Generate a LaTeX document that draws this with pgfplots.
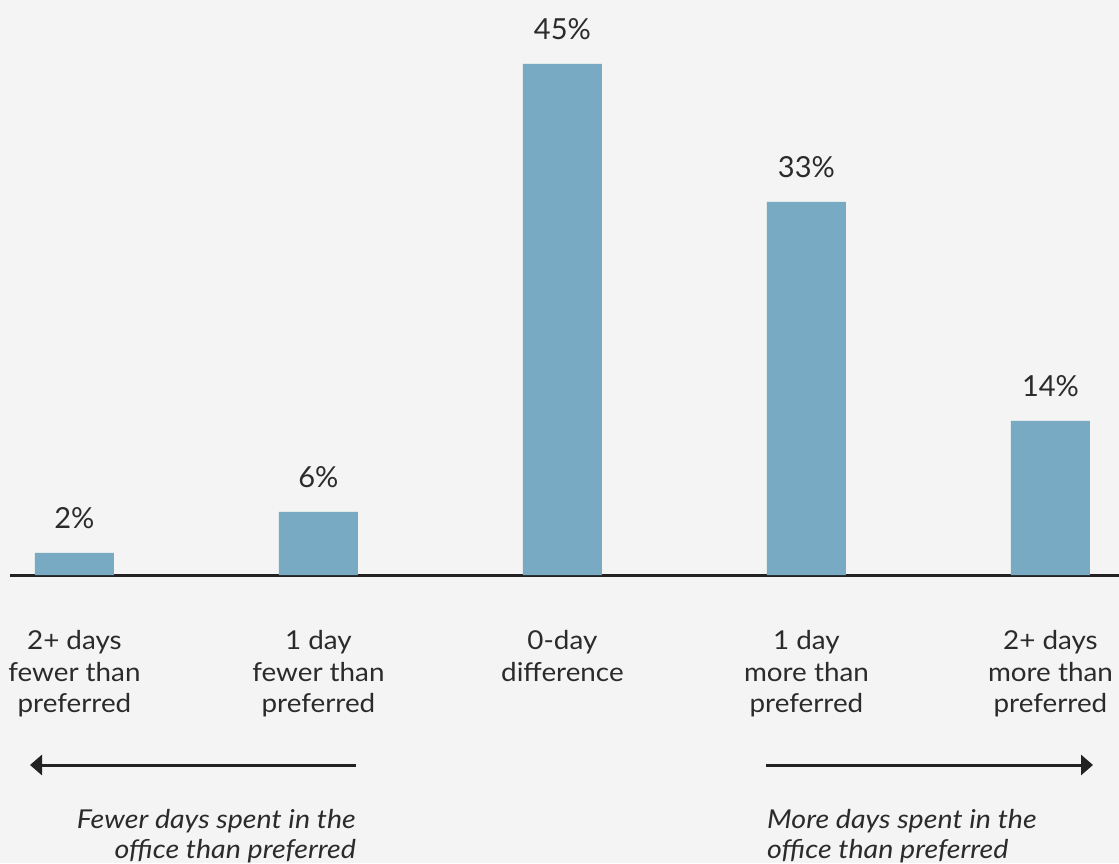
\documentclass[border=0pt]{standalone}
\usepackage{pgfplots}
\pgfplotsset{compat=1.18}
\usepackage{pgfplotstable}
\usepackage{fontspec}
\setmainfont{Lato}
\newfontfamily\widefont[FakeStretch=1.1]{Lato}
\newfontfamily\labfont[FakeStretch=1.07]{Lato}
\usetikzlibrary{arrows.meta}
\definecolor{bg}{HTML}{F3F4F3}
\definecolor{barc}{HTML}{78AAC3}
\definecolor{txt}{HTML}{2B2B2B}
\definecolor{ln}{HTML}{222222}
\pgfplotstableread{
x val lab
0 1.94 2
1 5.55 6
2 45.0 45
3 32.85 33
4 13.56 14
}\datatab
\begin{document}
\begin{tikzpicture}[x=1pt,y=1pt]
\fill[bg] (0,0) rectangle (1119,863);
\useasboundingbox (0,0) rectangle (1119,863);
\begin{axis}[
  at={(10pt,288pt)}, anchor=south west,
  scale only axis, width=1109pt, height=575pt,
  xmin=-0.264, xmax=4.281, ymin=0, ymax=50.63,
  axis x line=bottom, axis y line=none,
  axis line style={line width=3pt, color=ln, -},
  xtick={0,1,2,3,4},
  xticklabels={{2+ days\\fewer than\\preferred},{1 day\\fewer than\\preferred},{0-day\\difference},{1 day\\more than\\preferred},{2+ days\\more than\\preferred}},
  xtick style={draw=none},
  xticklabel style={align=center, font=\labfont\fontsize{26}{31.5}\selectfont, text=txt, anchor=north, yshift=-50pt},
  ytick=\empty,
  clip=false,
  /pgf/number format/assume math mode=true,
]
\addplot[ybar, bar width=79pt, fill=barc, draw=none,
  point meta=explicit,
  nodes near coords={\pgfmathprintnumber[fixed,precision=0]{\pgfplotspointmeta}\%},
  nodes near coords style={anchor=base, yshift=24pt, font=\fontsize{29}{34}\selectfont, text=txt},
] table[x=x, y=val, meta=lab] {\datatab};
\end{axis}
\draw[line width=3pt, ln, -{Triangle[length=12pt,width=20pt]}] (356,98) -- (30,98);
\draw[line width=3pt, ln, -{Triangle[length=12pt,width=20pt]}] (766,98) -- (1093,98);
\begin{scope}[every node/.style={font=\widefont\fontsize{26}{30}\selectfont\itshape, text=txt, inner sep=0pt}]
\node[anchor=base east] at (356,35) {Fewer days spent in the};
\node[anchor=base east] at (356,5) {office than preferred};
\node[anchor=base west] at (767,35) {More days spent in the};
\node[anchor=base west] at (767,5) {office than preferred};
\end{scope}
\end{tikzpicture}
\end{document}
